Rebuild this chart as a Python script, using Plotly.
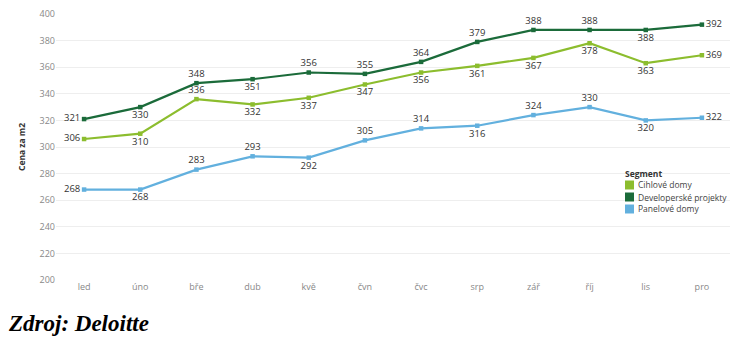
import plotly.graph_objects as go

months = ["led", "úno", "bře", "dub", "kvě", "čvn", "čvc", "srp", "zář", "říj", "lis", "pro"]
cihlove = [306, 310, 336, 332, 337, 347, 356, 361, 367, 378, 363, 369]
developerske = [321, 330, 348, 351, 356, 355, 364, 379, 388, 388, 388, 392]
panelove = [268, 268, 283, 293, 292, 305, 314, 316, 324, 330, 320, 322]
y_ticks = [200, 220, 240, 260, 280, 300, 320, 340, 360, 380, 400]

L, B, T, R = "middle left", "bottom center", "top center", "middle right"
pos_cihl = [L, B, T, B, B, B, B, B, B, B, B, R]
pos_dev = [L, B, T, B, T, T, T, T, T, T, B, R]
pos_pan = [L, B, T, T, B, T, T, B, T, T, B, R]

col_c = "#8CBD2E"
col_d = "#1B6B3A"
col_p = "#62B0DE"

font_fam = "Open Sans, Noto Sans, sans-serif"

series = [
    ("Cihlové domy", cihlove, col_c, pos_cihl),
    ("Developerské projekty", developerske, col_d, pos_dev),
    ("Panelové domy", panelove, col_p, pos_pan),
]

ML, MR, MT, MB = 56, 23, 14, 58
W, H = 753, 338
PW, PH = W - ML - MR, H - MT - MB


def px(xp):
    return (xp - ML) / PW


def py(yp):
    return (H - MB - yp) / PH


fig = go.Figure()
for name, vals, col, pos in series:
    fig.add_trace(go.Scatter(
        x=months, y=vals, name=name, mode="lines+markers+text",
        line=dict(color=col, width=2.2),
        marker=dict(color=col, size=4.5, symbol="square"),
        text=[str(v) for v in vals], textposition=pos,
        textfont=dict(size=9.5, color="#333333", family=font_fam),
        cliponaxis=False, showlegend=False,
    ))

fig.update_layout(
    width=W, height=H,
    margin=dict(l=ML, r=MR, t=MT, b=MB, autoexpand=False),
    paper_bgcolor="white", plot_bgcolor="white",
    font=dict(family=font_fam, size=9, color="#555555"),
    showlegend=False,
    xaxis=dict(
        type="category", categoryorder="array", categoryarray=months,
        range=[-0.5, 11.5], automargin=False,
        showgrid=False, showline=False, zeroline=False, ticks="",
        tickfont=dict(size=9, color="#888888"),
    ),
    yaxis=dict(
        range=[200, 400], tickvals=y_ticks, automargin=False,
        showgrid=True, gridcolor="#EEEEEE", gridwidth=1,
        zeroline=False, showline=False, ticks="",
        tickfont=dict(size=9, color="#888888"),
        title=dict(text="<b>Cena za m2</b>", font=dict(size=8.5, color="#333333"), standoff=12),
    ),
)

# legend (drawn manually to match the compact original)
fig.add_annotation(
    text="<b>Segment</b>", xref="paper", yref="paper",
    x=px(623), y=py(173), xanchor="left", yanchor="middle", showarrow=False,
    font=dict(size=8.5, color="#333333", family=font_fam),
)
for i, (name, vals, col, pos) in enumerate(series):
    yc = 185 + 12 * i
    fig.add_shape(
        type="rect", xref="paper", yref="paper",
        x0=px(625), x1=px(634), y0=py(yc + 4.5), y1=py(yc - 4.5),
        fillcolor=col, line=dict(width=0),
    )
    fig.add_annotation(
        text=name, xref="paper", yref="paper",
        x=px(636), y=py(yc), xanchor="left", yanchor="middle", showarrow=False,
        font=dict(size=8.5, color="#444444", family=font_fam),
    )

fig.add_annotation(
    text="<b><i>Zdroj: Deloitte</i></b>", xref="paper", yref="paper",
    x=px(6), y=py(323), xanchor="left", yanchor="middle", showarrow=False,
    font=dict(family="Liberation Serif, Times New Roman, serif", size=23, color="black"),
)

fig.write_html("out.html")
